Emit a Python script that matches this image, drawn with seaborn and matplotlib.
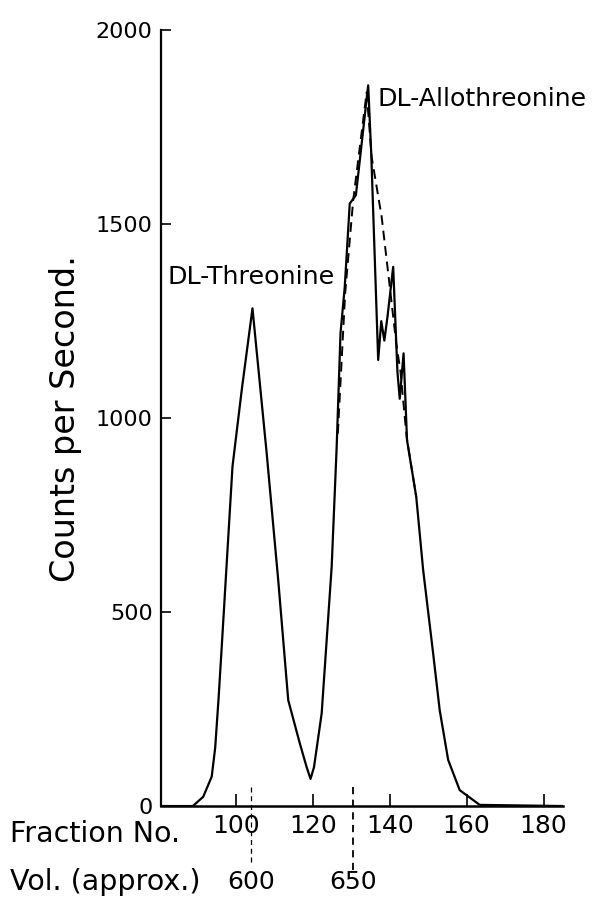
import matplotlib
matplotlib.use('Agg')
import matplotlib.pyplot as plt
import seaborn as sns

# Values (fraction number vs counts per second)
fraction = [80.5, 88.8, 91.5, 93.7, 94.6, 95.5, 96.3, 97.6, 99.1, 101.5, 104.3,
            108.0, 111.0, 113.6, 116.6, 118.4, 119.4, 120.3, 122.3, 124.9, 126.2,
            127.2, 128.3, 129.6, 131.2, 134.4, 135.2, 137.0, 137.8, 138.6, 139.4,
            140.9, 142.0, 142.6, 143.6, 144.5, 146.9, 148.7, 151.3, 153.0, 155.2,
            158.2, 163.4, 185.0]
counts = [0, 0, 24, 76, 150, 280, 410, 626, 875, 1072, 1283,
          909, 582, 273, 162, 100, 70, 100, 239, 617, 926,
          1219, 1338, 1553, 1575, 1858, 1680, 1150, 1250, 1200, 1260,
          1390, 1120, 1050, 1167, 943, 797, 608, 393, 247, 119,
          41, 3, 0]

# dashed (resolved) curve over the allothreonine peak
fraction_dash = [126.5, 128.4, 130.5, 134.0, 135.3, 137.9, 140.0, 141.7, 142.8, 144.4, 146.9]
counts_dash = [960, 1321, 1562, 1840, 1673, 1519, 1340, 1192, 1120, 952, 797]

x_ticks = [100, 120, 140, 160, 180]
y_ticks = [0, 500, 1000, 1500, 2000]
vol_fraction = [104, 130.5]
vol_labels = ['600', '650']

sns.set_style('ticks', rc={'text.color': 'black', 'axes.labelcolor': 'black',
                           'xtick.color': 'black', 'ytick.color': 'black',
                           'axes.edgecolor': 'black'})
plt.rcParams['font.family'] = ['DejaVu Sans']

fig = plt.figure(figsize=(5.94, 9), dpi=100)
ax = fig.add_axes([0.271, 0.1044, 0.677, 0.862])

sns.lineplot(x=fraction, y=counts, sort=False, color='black', linewidth=1.6, ax=ax)
sns.lineplot(x=fraction_dash, y=counts_dash, sort=False, color='black', linewidth=1.4,
             linestyle=(0, (5, 3)), ax=ax)

ax.set_xlim(80.5, 185.1)
ax.set_ylim(0, 2000)
ax.set_xticks(x_ticks)
ax.set_yticks(y_ticks)
ax.tick_params(axis='x', direction='in', length=9, width=1.2, labelsize=18, pad=6)
ax.tick_params(axis='y', direction='in', length=7, width=1.2, labelsize=16, pad=6)
for s in ['top', 'right']:
    ax.spines[s].set_visible(False)
ax.spines['left'].set_linewidth(1.6)
ax.spines['bottom'].set_linewidth(1.8)

ax.set_ylabel('Counts per Second.', fontsize=24, labelpad=10)
ax.set_xlabel('')

ax.text(82.3, 1363, 'DL-Threonine', fontsize=18.3, va='center', ha='left')
ax.text(136.7, 1822, 'DL-Allothreonine', fontsize=18.2, va='center', ha='left')

# volume markers below the axis
trans = ax.get_xaxis_transform()
for xv, lo, lw in zip(vol_fraction, [-0.076, -0.082], [0.9, 1.3]):
    ax.plot([xv, xv], [0.0245, lo], transform=trans, clip_on=False,
            color='black', linewidth=lw, linestyle=(0, (4, 3)))
for xv, lab in zip(vol_fraction, vol_labels):
    ax.text(xv, -0.098, lab, transform=trans, fontsize=18, ha='center', va='center')

fig.text(10 / 594, 1 - 834 / 900, 'Fraction No.', fontsize=20.5, ha='left', va='center')
fig.text(10 / 594, 1 - 882 / 900, 'Vol. (approx.)', fontsize=20.5, ha='left', va='center')

fig.savefig('out.png', dpi=100)
